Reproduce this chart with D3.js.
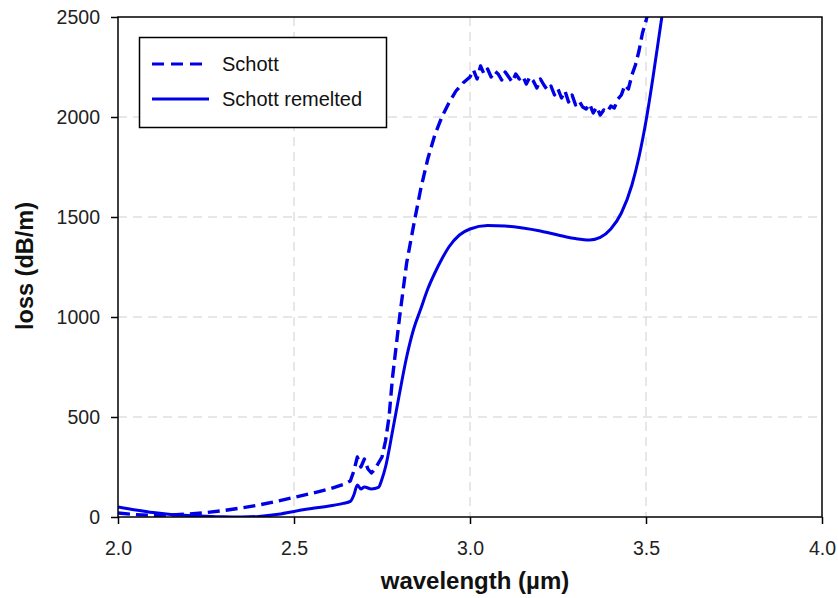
<!DOCTYPE html>
<html>
<head>
<meta charset="utf-8">
<script src="https://cdn.jsdelivr.net/npm/d3@7"></script>
<style>
  body { margin: 0; background: #fff; }
  text { font-family: "Liberation Sans", Arial, sans-serif; }
</style>
</head>
<body>
<svg id="chart" width="838" height="598"></svg>
<script>
// wavelength (um) / loss (dB/m)
let schottX = [2.00, 2.05, 2.10, 2.15, 2.20, 2.25, 2.30, 2.35, 2.40, 2.45, 2.50, 2.55, 2.60, 2.64, 2.66,
    2.67, 2.68, 2.69, 2.70, 2.71, 2.72, 2.73, 2.74, 2.75, 2.76, 2.77, 2.78, 2.80, 2.82, 2.84, 2.86, 2.88,
    2.90, 2.92, 2.94, 2.96, 2.98, 3.00, 3.01, 3.02, 3.03, 3.04, 3.05, 3.06, 3.07, 3.08, 3.09, 3.10, 3.11,
    3.12, 3.13, 3.14, 3.15, 3.16, 3.17, 3.18, 3.19, 3.20, 3.21, 3.22, 3.23, 3.24, 3.25, 3.26, 3.27, 3.28,
    3.29, 3.30, 3.31, 3.32, 3.33, 3.34, 3.35, 3.36, 3.37, 3.38, 3.39, 3.40, 3.41, 3.42, 3.43, 3.44, 3.45,
    3.46, 3.47, 3.48, 3.49, 3.50, 3.51];
let schottY = [20, 12, 8, 10, 15, 22, 32, 45, 60, 78, 98, 118, 140, 162, 180,
    230, 300, 250, 290, 240, 220, 240, 270, 300, 380, 500, 700, 1000, 1270, 1460, 1640, 1790,
    1910, 2000, 2070, 2130, 2170, 2200, 2235, 2190, 2255, 2215, 2240, 2200, 2230, 2215, 2185, 2225, 2200,
    2175, 2215, 2190, 2205, 2165, 2200, 2180, 2145, 2190, 2160, 2135, 2155, 2110, 2140, 2095, 2130, 2075,
    2110, 2060, 2080, 2050, 2040, 2065, 2020, 2050, 2010, 2035, 2025, 2055, 2045, 2090, 2110, 2160, 2140,
    2210, 2260, 2330, 2420, 2480, 2560];

let remeltX = [2.00, 2.05, 2.10, 2.15, 2.20, 2.25, 2.30, 2.35, 2.40, 2.45, 2.50, 2.55, 2.60, 2.64, 2.66,
    2.67, 2.68, 2.69, 2.70, 2.72, 2.74, 2.75, 2.76, 2.78, 2.80, 2.82, 2.84, 2.86, 2.88, 2.90, 2.92, 2.94,
    2.97, 3.00, 3.05, 3.10, 3.15, 3.20, 3.25, 3.30, 3.34, 3.37, 3.40, 3.43, 3.46, 3.48, 3.50, 3.52, 3.54, 3.55];
let remeltY = [50, 35, 22, 13, 8, 4, 1, 0, 3, 12, 28, 42, 55, 68, 78,
    110, 160, 140, 150, 140, 148, 190, 250, 430, 620, 800, 940, 1040, 1140, 1220, 1290, 1350,
    1410, 1440, 1457, 1455, 1445, 1430, 1410, 1392, 1385, 1398, 1440, 1520, 1660, 1800, 1980, 2200, 2440, 2560];

let xTicks = [2.0, 2.5, 3.0, 3.5, 4.0];
let yTicks = [0, 500, 1000, 1500, 2000, 2500];
let seriesNames = ["Schott", "Schott remelted"];

let blue = "#0000e6";
let margin = {left: 118, top: 17, right: 16, bottom: 81};
let width = 838 - margin.left - margin.right;
let height = 598 - margin.top - margin.bottom;

let svg = d3.select("#chart");
let g = svg.append("g").attr("transform", "translate(" + margin.left + "," + margin.top + ")");

let x = d3.scaleLinear().domain([2.0, 4.0]).range([0, width]);
let y = d3.scaleLinear().domain([0, 2500]).range([height, 0]);

// grid
g.selectAll(".hgrid").data(yTicks.filter(d => d > 0 && d < 2500)).enter()
 .append("line")
 .attr("x1", 0).attr("x2", width)
 .attr("y1", d => y(d)).attr("y2", d => y(d))
 .attr("stroke", "#cfcfcf").attr("stroke-dasharray", "9,6");
g.selectAll(".vgrid").data(xTicks.filter(d => d > 2.0 && d < 4.0)).enter()
 .append("line")
 .attr("y1", 0).attr("y2", height)
 .attr("x1", d => x(d)).attr("x2", d => x(d))
 .attr("stroke", "#cfcfcf").attr("stroke-dasharray", "9,6");

// clip
svg.append("defs").append("clipPath").attr("id", "plot")
   .append("rect").attr("width", width).attr("height", height);

let line = d3.line().x(d => x(d[0])).y(d => y(d[1]));

g.append("path")
 .datum(d3.zip(remeltX, remeltY))
 .attr("clip-path", "url(#plot)")
 .attr("d", line.curve(d3.curveMonotoneX))
 .attr("fill", "none").attr("stroke", blue).attr("stroke-width", 3);

g.append("path")
 .datum(d3.zip(schottX, schottY))
 .attr("clip-path", "url(#plot)")
 .attr("d", line.curve(d3.curveLinear))
 .attr("fill", "none").attr("stroke", blue).attr("stroke-width", 3.4)
 .attr("stroke-linejoin", "round")
 .attr("stroke-dasharray", "12,6");

// frame
g.append("rect").attr("width", width).attr("height", height)
 .attr("fill", "none").attr("stroke", "#000").attr("stroke-width", 1.5);

// axes
let xAxis = g.append("g").attr("transform", "translate(0," + height + ")")
             .call(d3.axisBottom(x).tickValues(xTicks).tickFormat(d3.format(".1f"))
                     .tickSizeOuter(0).tickSize(7).tickPadding(17));
let yAxis = g.append("g")
             .call(d3.axisLeft(y).tickValues(yTicks).tickFormat(d3.format("d"))
                     .tickSizeOuter(0).tickSize(7).tickPadding(11));
[xAxis, yAxis].forEach(a => {
    a.select(".domain").remove();
    a.selectAll(".tick line").attr("stroke", "#000").attr("stroke-width", 1.5);
    a.selectAll("text").attr("font-size", 19.5).attr("fill", "#222")
     .attr("font-family", "Liberation Sans, Arial, sans-serif");
});

// axis titles
svg.append("text")
   .attr("x", margin.left + width / 2 + 5).attr("y", 589)
   .attr("text-anchor", "middle")
   .attr("font-size", 24).attr("font-weight", "bold").attr("fill", "#111")
   .text("wavelength (\u00b5m)");
svg.append("text")
   .attr("transform", "translate(33,266) rotate(-90)")
   .attr("text-anchor", "middle")
   .attr("font-size", 23.5).attr("font-weight", "bold").attr("fill", "#111")
   .text("loss (dB/m)");

// legend
let legend = svg.append("g");
legend.append("rect")
      .attr("x", 139.5).attr("y", 37.5).attr("width", 247).attr("height", 90)
      .attr("fill", "#fff").attr("stroke", "#000").attr("stroke-width", 1.5);
let entries = legend.selectAll(".entry").data(seriesNames).enter().append("g")
      .attr("transform", (d, i) => "translate(0," + (64 + i * 35) + ")");
entries.append("line")
       .attr("x1", 152).attr("x2", (d, i) => i === 0 ? 204 : 209)
       .attr("stroke", blue).attr("stroke-width", 3.2)
       .attr("stroke-dasharray", (d, i) => i === 0 ? "12,7" : null);
entries.append("text")
       .attr("x", 222).attr("y", 7)
       .attr("font-size", 20).attr("fill", "#111")
       .text(d => d);
</script>
</body>
</html>
